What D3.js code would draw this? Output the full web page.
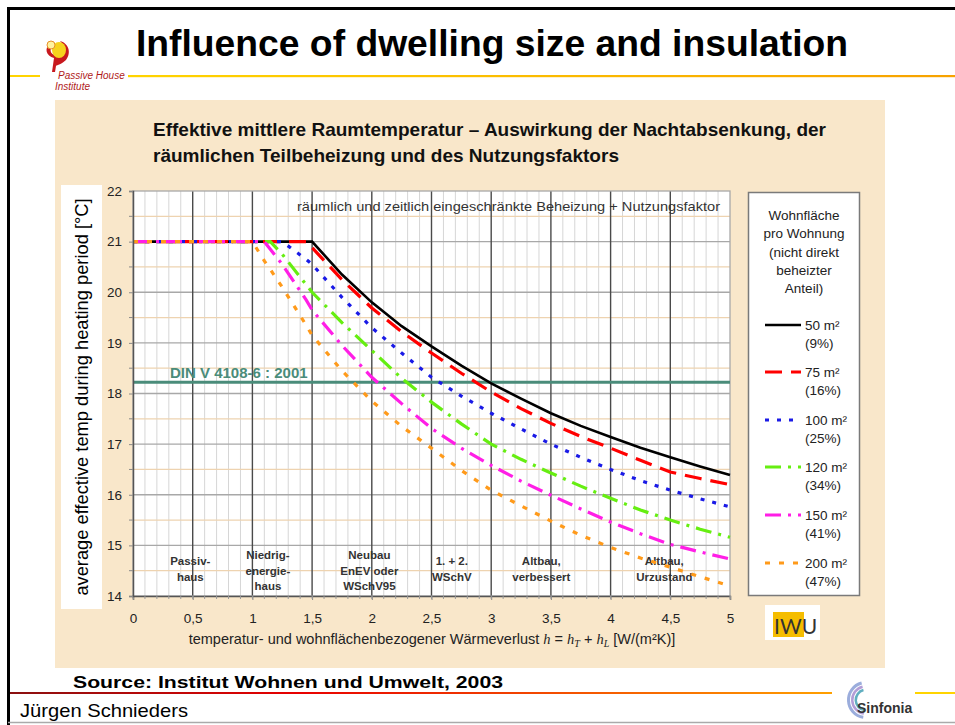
<!DOCTYPE html>
<html><head><meta charset="utf-8">
<script src="https://cdn.jsdelivr.net/npm/d3@7"></script>
<style>body{margin:0;background:#fff;} svg{display:block;font-family:Arial,"Liberation Sans",sans-serif;}</style>
</head><body><svg id="c" width="955" height="725"></svg>
<script>
// ---------- data ----------
const hValues = [0, 1, 1.1, 1.15, 1.25, 1.45, 1.5, 1.75, 2, 2.25, 2.5, 2.75, 3, 3.25, 3.5, 3.75, 4, 4.25, 4.5, 4.75, 5];
const temp50  = [21, 21, 21, 21, 21, 21, 21, 20.35, 19.8, 19.33, 18.93, 18.55, 18.2, 17.9, 17.61, 17.36, 17.14, 16.93, 16.74, 16.56, 16.39];
const temp75  = [21, 21, 21, 21, 21, 21, 20.88, 20.25, 19.69, 19.22, 18.8, 18.4, 18.03, 17.7, 17.41, 17.15, 16.92, 16.68, 16.45, 16.32, 16.2];
const temp100 = [21, 21, 21, 21, 21, 20.65, 20.55, 19.9, 19.3, 18.8, 18.32, 17.95, 17.61, 17.3, 17.0, 16.74, 16.5, 16.28, 16.09, 15.92, 15.76];
const temp120 = [21, 21, 21, 21, 20.75, 20.15, 20.0, 19.4, 18.85, 18.3, 17.83, 17.4, 17.0, 16.7, 16.43, 16.17, 15.93, 15.7, 15.5, 15.32, 15.16];
const temp150 = [21, 21, 21, 20.85, 20.55, 19.85, 19.65, 18.95, 18.32, 17.8, 17.31, 16.92, 16.58, 16.27, 15.99, 15.72, 15.46, 15.23, 15.02, 14.87, 14.73];
const temp200 = [21, 21, 20.62, 20.45, 20.1, 19.35, 19.15, 18.45, 17.85, 17.35, 16.92, 16.48, 16.09, 15.78, 15.48, 15.2, 14.96, 14.75, 14.57, 14.38, 14.2];
const seriesNames  = ["50 m²", "75 m²", "100 m²", "120 m²", "150 m²", "200 m²"];
const seriesShares = ["(9%)", "(16%)", "(25%)", "(34%)", "(41%)", "(47%)"];
const seriesColors = ["#000000", "#ff0000", "#1a1ae6", "#66ee11", "#ff1ee6", "#ff9a1a"];
const seriesDashes = [null, "17,9", "4,8", "16,7,3,7", "16,7,3,7", "5,9"];
const xTickValues = [0, 0.5, 1, 1.5, 2, 2.5, 3, 3.5, 4, 4.5, 5];
const yTickValues = [14, 15, 16, 17, 18, 19, 20, 21, 22];
const categoryLines = [["Passiv-", "haus"], ["Niedrig-", "energie-", "haus"], ["Neubau", "EnEV oder", "WSchV95"], ["1. + 2.", "WSchV"], ["Altbau,", "verbessert"], ["Altbau,", "Urzustand"]];
const categoryH = [0.48, 1.13, 1.98, 2.67, 3.42, 4.45];
const dinValue = 18.22;
const dinLabel = "DIN V 4108-6 : 2001";
const legendTitle = ["Wohnfläche", "pro Wohnung", "(nicht direkt", "beheizter", "Anteil)"];

// ---------- drawing ----------
const svg = d3.select("#c");
const defs = svg.append("defs");
const g1 = defs.append("linearGradient").attr("id", "hdr");
g1.append("stop").attr("offset", "0%").attr("stop-color", "#ffd400");
g1.append("stop").attr("offset", "100%").attr("stop-color", "#f7a200");
const g2 = defs.append("linearGradient").attr("id", "ftr");
g2.append("stop").attr("offset", "0%").attr("stop-color", "#8a1010");
g2.append("stop").attr("offset", "35%").attr("stop-color", "#e80000");
g2.append("stop").attr("offset", "100%").attr("stop-color", "#ffa000");

// slide frame
svg.append("line").attr("x1", 8).attr("x2", 955).attr("y1", 8.5).attr("y2", 8.5).attr("stroke", "#000").attr("stroke-width", 3);
svg.append("line").attr("x1", 8.5).attr("x2", 8.5).attr("y1", 7).attr("y2", 725).attr("stroke", "#000").attr("stroke-width", 3);
svg.append("line").attr("x1", 8).attr("x2", 955).attr("y1", 722.5).attr("y2", 722.5).attr("stroke", "#aaa").attr("stroke-width", 1.5);

// header
svg.append("text").attr("x", 492).attr("y", 56).attr("text-anchor", "middle")
  .attr("font-size", 37).attr("font-weight", "bold").attr("fill", "#000")
  .attr("textLength", 712).attr("lengthAdjust", "spacingAndGlyphs")
  .text("Influence of dwelling size and insulation");
svg.append("line").attr("x1", 10).attr("x2", 40).attr("y1", 76).attr("y2", 76).attr("stroke", "#ffd400").attr("stroke-width", 2);
svg.append("rect").attr("x", 128).attr("y", 75).attr("width", 827).attr("height", 2.2).attr("fill", "url(#hdr)");
// Passive House logo
const logo = svg.append("g");
logo.append("path").attr("d", "M52,72 L54,58 C46,56 44,48 50,44 L52,47 C49,50 51,55 56,55 C64,56 66,47 60,41 C68,43 72,52 66,60 C62,64 57,65 56,66 L55,72 Z").attr("fill", "#c8181e");
logo.append("ellipse").attr("cx", 59).attr("cy", 50).attr("rx", 7).attr("ry", 8).attr("fill", "#f6d21e");
logo.append("circle").attr("cx", 51).attr("cy", 45).attr("r", 4).attr("fill", "#fff3a0").attr("stroke", "#e6902a").attr("stroke-width", 1);
logo.append("text").attr("x", 58).attr("y", 79).attr("font-size", 10).attr("font-style", "italic").attr("fill", "#b01a1a").text("Passive House");
logo.append("text").attr("x", 55).attr("y", 90).attr("font-size", 10).attr("font-style", "italic").attr("fill", "#b01a1a").text("Institute");

// beige panel
svg.append("rect").attr("x", 55).attr("y", 100).attr("width", 830).attr("height", 568).attr("fill", "#f9e7ca");
svg.append("text").attr("x", 153).attr("y", 136).attr("font-size", 19).attr("font-weight", "bold")
  .attr("font-family", "'Liberation Sans Narrow','Arial Narrow',Arial,sans-serif").attr("fill", "#111")
  .attr("textLength", 673).attr("lengthAdjust", "spacingAndGlyphs")
  .text("Effektive mittlere Raumtemperatur – Auswirkung der Nachtabsenkung, der");
svg.append("text").attr("x", 153).attr("y", 162).attr("font-size", 19).attr("font-weight", "bold")
  .attr("font-family", "'Liberation Sans Narrow','Arial Narrow',Arial,sans-serif").attr("fill", "#111")
  .attr("textLength", 466).attr("lengthAdjust", "spacingAndGlyphs")
  .text("räumlichen Teilbeheizung und des Nutzungsfaktors");

// scales
const x = d3.scaleLinear().domain([0, 5]).range([133, 730]);
const y = d3.scaleLinear().domain([14, 22]).range([596, 191]);

// plot background + grid
svg.append("rect").attr("x", x(0)).attr("y", y(22)).attr("width", x(5) - x(0)).attr("height", y(14) - y(22)).attr("fill", "#fff");
const grid = svg.append("g");
grid.selectAll("line.vmin").data(d3.range(1, 50).filter(i => i % 5 !== 0).map(i => i / 10)).join("line")
  .attr("x1", d => x(d)).attr("x2", d => x(d)).attr("y1", y(22)).attr("y2", y(14)).attr("stroke", "#d6d6d6").attr("stroke-width", 1);
grid.selectAll("line.hhalf").data(d3.range(14.5, 22, 1)).join("line")
  .attr("x1", x(0)).attr("x2", x(5)).attr("y1", d => y(d)).attr("y2", d => y(d)).attr("stroke", "#eed3b0").attr("stroke-width", 1.2);
grid.selectAll("line.hint").data(d3.range(15, 22, 1)).join("line")
  .attr("x1", x(0)).attr("x2", x(5)).attr("y1", d => y(d)).attr("y2", d => y(d)).attr("stroke", "#a8a8a8").attr("stroke-width", 1.3);
grid.selectAll("line.vmaj").data([0.5, 1, 1.5, 2, 2.5, 3, 3.5, 4, 4.5]).join("line")
  .attr("x1", d => x(d)).attr("x2", d => x(d)).attr("y1", y(22)).attr("y2", y(14)).attr("stroke", "#4a4a4a").attr("stroke-width", 1.4);
svg.append("rect").attr("x", x(0)).attr("y", y(22)).attr("width", x(5) - x(0)).attr("height", y(14) - y(22))
  .attr("fill", "none").attr("stroke", "#a8a8a8").attr("stroke-width", 1.3);

// caption inside plot
svg.append("text").attr("x", 297).attr("y", 211).attr("font-size", 13).attr("fill", "#333")
  .attr("textLength", 423).attr("lengthAdjust", "spacingAndGlyphs")
  .text("räumlich und zeitlich eingeschränkte Beheizung + Nutzungsfaktor");

// category labels
categoryLines.forEach((lines, i) => {
  const t = svg.append("text").attr("text-anchor", "middle").attr("font-size", 11.5).attr("font-weight", "bold").attr("fill", "#333");
  const y0 = lines.length === 3 ? 559 : 565;
  lines.forEach((s, j) => t.append("tspan").attr("x", x(categoryH[i])).attr("y", y0 + j * 15.5).text(s));
});

// DIN line
svg.append("line").attr("x1", x(0)).attr("x2", x(5)).attr("y1", y(dinValue)).attr("y2", y(dinValue)).attr("stroke", "#4a8c7a").attr("stroke-width", 3);
svg.append("text").attr("x", 170).attr("y", y(dinValue) - 4).attr("font-size", 15).attr("font-weight", "bold").attr("fill", "#4a8c7a").text(dinLabel);

// curves
const allSeries = [temp50, temp75, temp100, temp120, temp150, temp200];
const line = d3.line().x(d => x(d[0])).y(d => y(d[1])).curve(d3.curveLinear);
allSeries.forEach((vals, i) => {
  svg.append("path").datum(hValues.map((hv, k) => [hv, vals[k]]))
    .attr("d", line).attr("fill", "none").attr("stroke", seriesColors[i])
    .attr("stroke-width", i === 0 ? 2.6 : 3.2)
    .attr("stroke-dasharray", seriesDashes[i]);
});

// axes
const xAxis = d3.axisBottom(x).tickValues(xTickValues).tickSize(4).tickPadding(13)
  .tickFormat(d => String(d).replace(".", ","));
const gx = svg.append("g").attr("transform", `translate(0,${y(14)})`).call(xAxis);
gx.select(".domain").attr("stroke", "#555").attr("stroke-width", 1.5);
gx.selectAll(".tick line").attr("stroke", "#888");
gx.selectAll("text").attr("font-size", 13.5).attr("font-family", "Arial,'Liberation Sans',sans-serif").attr("fill", "#222");
svg.append("g").selectAll("line").data(d3.range(0, 51).map(i => i / 10)).join("line")
  .attr("x1", d => x(d)).attr("x2", d => x(d)).attr("y1", y(14)).attr("y2", y(14) + 3).attr("stroke", "#999");

const yAxis = d3.axisLeft(y).tickValues(yTickValues).tickSize(4).tickPadding(7).tickFormat(d3.format("d"));
const gy = svg.append("g").attr("transform", `translate(${x(0)},0)`).call(yAxis);
gy.select(".domain").attr("stroke", "#555").attr("stroke-width", 1.5);
gy.selectAll(".tick line").attr("stroke", "#888");
gy.selectAll("text").attr("font-size", 13.5).attr("font-family", "Arial,'Liberation Sans',sans-serif").attr("fill", "#222");
svg.append("g").selectAll("line").data(d3.range(14.5, 22, 1)).join("line")
  .attr("x1", x(0) - 4).attr("x2", x(0)).attr("y1", d => y(d)).attr("y2", d => y(d)).attr("stroke", "#888");

// y title with white box
svg.append("rect").attr("x", 61).attr("y", 185).attr("width", 41).attr("height", 424).attr("fill", "#fff");
svg.append("text").attr("transform", "translate(88,397) rotate(-90)").attr("text-anchor", "middle")
  .attr("font-size", 18.3).attr("fill", "#000").text("average effective temp during heating period [°C]");

// x title
const xt = svg.append("text").attr("x", 432).attr("y", 644).attr("text-anchor", "middle").attr("font-size", 14.5).attr("fill", "#222");
xt.append("tspan").text("temperatur- und wohnflächenbezogener Wärmeverlust ");
xt.append("tspan").attr("font-style", "italic").attr("font-family", "'Liberation Serif','DejaVu Serif',serif").text("h");
xt.append("tspan").text(" = ");
xt.append("tspan").attr("font-style", "italic").attr("font-family", "'Liberation Serif','DejaVu Serif',serif").text("h");
xt.append("tspan").attr("font-style", "italic").attr("font-size", 10).attr("dy", 3).attr("font-family", "'Liberation Serif',serif").text("T");
xt.append("tspan").attr("dy", -3).text(" + ");
xt.append("tspan").attr("font-style", "italic").attr("font-family", "'Liberation Serif','DejaVu Serif',serif").text("h");
xt.append("tspan").attr("font-style", "italic").attr("font-size", 10).attr("dy", 3).attr("font-family", "'Liberation Serif',serif").text("L");
xt.append("tspan").attr("dy", -3).text("  [W/(m²K)]");

// legend
svg.append("rect").attr("x", 748.5).attr("y", 192.5).attr("width", 111).attr("height", 403).attr("fill", "#fff").attr("stroke", "#7a7a7a").attr("stroke-width", 1.5);
legendTitle.forEach((s, i) => svg.append("text").attr("x", 804).attr("y", 220 + i * 18.3).attr("text-anchor", "middle").attr("font-size", 13.5).attr("fill", "#222").text(s));
const legY = [325, 372, 420, 467, 515, 563];
seriesNames.forEach((s, i) => {
  svg.append("line").attr("x1", 765).attr("x2", 801).attr("y1", legY[i]).attr("y2", legY[i])
    .attr("stroke", seriesColors[i]).attr("stroke-width", i === 0 ? 2.6 : 3.2).attr("stroke-dasharray", seriesDashes[i]);
  svg.append("text").attr("x", 805).attr("y", legY[i] + 5).attr("font-size", 13.5).attr("fill", "#222").text(s);
  svg.append("text").attr("x", 805).attr("y", legY[i] + 23).attr("font-size", 13.5).attr("fill", "#222").text(seriesShares[i]);
});

// IWU logo
svg.append("rect").attr("x", 765).attr("y", 605).attr("width", 55).attr("height", 35).attr("fill", "#fff");
svg.append("rect").attr("x", 773).attr("y", 612).attr("width", 31).attr("height", 25).attr("fill", "#f5bd00");
svg.append("text").attr("x", 774).attr("y", 634).attr("font-size", 21).attr("font-family", "Lato,'Open Sans',sans-serif").attr("fill", "#333").text("IWU");

// footer
svg.append("text").attr("x", 73).attr("y", 688).attr("font-size", 17).attr("font-weight", "bold").attr("fill", "#000")
  .attr("textLength", 430).attr("lengthAdjust", "spacingAndGlyphs").text("Source: Institut Wohnen und Umwelt, 2003");
svg.append("rect").attr("x", 10).attr("y", 692).attr("width", 822).attr("height", 2).attr("fill", "url(#ftr)");
svg.append("rect").attr("x", 915).attr("y", 692).attr("width", 40).attr("height", 2).attr("fill", "#ffd400");
svg.append("text").attr("x", 20).attr("y", 717).attr("font-size", 19).attr("fill", "#000")
  .attr("textLength", 168).attr("lengthAdjust", "spacingAndGlyphs").text("Jürgen Schnieders");
// Sinfonia logo
const sl = svg.append("g");
const arc = d3.arc();
[[16, 19, "#8a9fd6"], [12.5, 15, "#a48ccf"], [9, 11.5, "#45a0b5"]].forEach(([ri, ro, c]) => {
  sl.append("path").attr("transform", "translate(866,700)")
    .attr("d", arc({innerRadius: ri, outerRadius: ro, startAngle: -Math.PI * 0.95, endAngle: -Math.PI * 0.08}))
    .attr("fill", c).attr("opacity", 0.85);
});
sl.append("text").attr("x", 857).attr("y", 713).attr("font-size", 14).attr("font-weight", "bold").attr("fill", "#333").text("Sinfonia");
</script></body></html>
